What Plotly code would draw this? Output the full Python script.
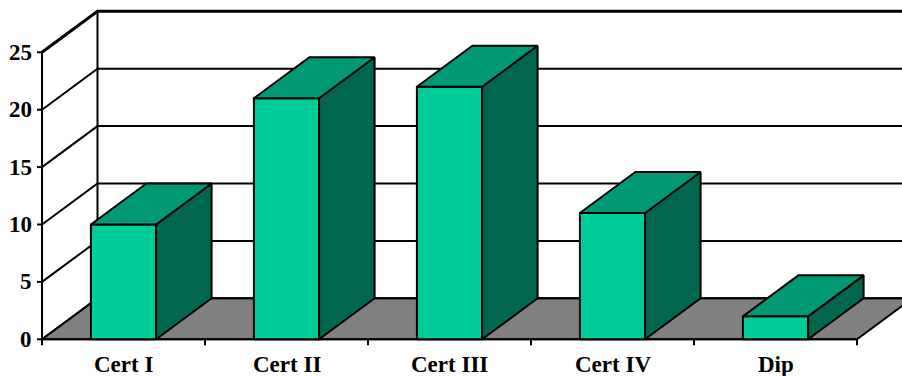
import plotly.graph_objects as go

categories = ["Cert I", "Cert II", "Cert III", "Cert IV", "Dip"]
values = [10, 21, 22, 11, 2]
y_ticks = [0, 5, 10, 15, 20, 25]

W, H = 902, 376
PX_X = 163.0          # pixels per category
PX_Y = 11.48          # pixels per value unit
LEFT_PX = 42.0        # front-left corner pixel x
ZERO_PX = 339.3       # value 0 pixel y
DX = 55.5 / PX_X      # depth offset in category units
DY = 41.0 / PX_Y      # depth offset in value units
HALF = 0.2            # half bar width

x0 = -0.5
x1 = len(categories) - 0.5
ymax = y_ticks[-1]

xr = [x0 - LEFT_PX / PX_X, x0 + (W - LEFT_PX) / PX_X]
yr = [-(H - ZERO_PX) / PX_Y, ZERO_PX / PX_Y]

FONT = dict(family="Liberation Serif", size=23, color="black", weight="bold")

fig = go.Figure()


def poly(xs, ys, fill, width=2):
    fig.add_trace(go.Scatter(
        x=xs + [xs[0]], y=ys + [ys[0]], mode="lines", fill="toself",
        fillcolor=fill, line=dict(color="black", width=width),
        hoverinfo="skip", showlegend=False))


def lines(xs, ys, width=2):
    fig.add_trace(go.Scatter(
        x=xs, y=ys, mode="lines", line=dict(color="black", width=width),
        hoverinfo="skip", showlegend=False))


# floor
poly([x0, x1, x1 + DX, x0 + DX], [0, 0, DY, DY], "#808080")

# gridlines (side wall + back wall)
for t in y_ticks:
    lines([x0, x0 + DX, x1 + DX + 1], [t, t + DY, t + DY],
          width=3 if t == ymax else 2)

# back wall left edge
lines([x0 + DX, x0 + DX], [DY, ymax + DY])
# front value axis
lines([x0, x0], [0, ymax])

# value ticks
tx, ty = [], []
for t in y_ticks:
    tx += [x0 - 5 / PX_X, x0, None]
    ty += [t, t, None]
lines(tx, ty)

# category axis line and ticks
lines([x0, x1], [0, 0])
cx, cy = [], []
for k in range(len(categories) + 1):
    cx += [x0 + k, x0 + k, None]
    cy += [0, -6 / PX_Y, None]
lines(cx, cy)

# bars
for i, v in enumerate(values):
    a, b = i - HALF, i + HALF
    poly([a, b, b, a], [0, 0, v, v], "#00CC99")
    poly([b, b + DX, b + DX, b], [0, DY, v + DY, v], "#00664D")
    poly([a, b, b + DX, a + DX], [v, v, v + DY, v + DY], "#009973")

annotations = []
for t in y_ticks:
    annotations.append(dict(x=x0, y=t, text=str(t), showarrow=False,
                            xanchor="right", yanchor="middle", xshift=-8,
                            font=FONT))
for i, c in enumerate(categories):
    annotations.append(dict(x=i, y=0, text=c, showarrow=False,
                            xanchor="center", yanchor="middle", yshift=-25,
                            font=FONT))

fig.update_layout(
    width=W, height=H, margin=dict(l=0, r=0, t=0, b=0),
    paper_bgcolor="white", plot_bgcolor="white",
    xaxis=dict(visible=False, range=xr, fixedrange=True),
    yaxis=dict(visible=False, range=yr, fixedrange=True),
    annotations=annotations, showlegend=False)

fig.write_html("out.html")
